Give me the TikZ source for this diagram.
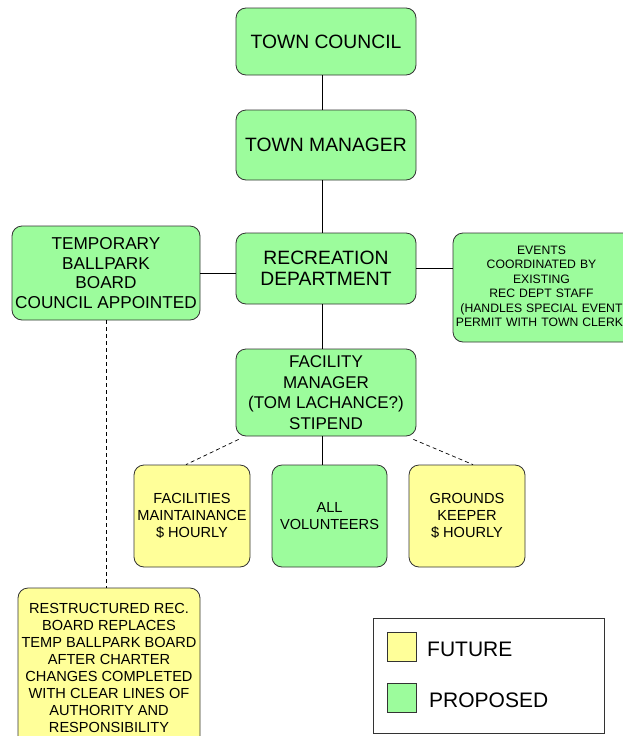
\documentclass[tikz,border=0pt]{standalone}
\usepackage{fontspec}
\setmainfont{Liberation Sans}
\definecolor{propgreen}{HTML}{9CFC9C}
\definecolor{futyellow}{HTML}{FFFF99}
\begin{document}
\begin{tikzpicture}[x=1pt,y=-1pt,
  box/.style={draw=black!80, line width=0.8pt, rounded corners=10pt, align=center, inner sep=0pt},
  prop/.style={box, fill=propgreen},
  fut/.style={box, fill=futyellow},
  big/.style={font=\fontsize{19.3}{21}\selectfont},
  mid/.style={font=\fontsize{14.6}{17}\selectfont},
  sml/.style={font=\fontsize{12.2}{14.4}\selectfont},
  conn/.style={draw=black, line width=0.7pt},
  dconn/.style={draw=black, line width=0.7pt, dash pattern=on 4pt off 3pt}]
\useasboundingbox (0,0) rectangle (623,736);
\clip (0,0) rectangle (623,736);
\node[prop, big, minimum width=180pt, minimum height=67pt] (council) at (326,41.5) {TOWN COUNCIL};
\node[prop, big, minimum width=180pt, minimum height=70pt] (manager) at (326,145) {TOWN MANAGER};
\node[prop, big, minimum width=180pt, minimum height=71pt] (rec) at (326,268.5) {RECREATION\\DEPARTMENT};
\node[prop, font=\fontsize{17.2}{19.8}\selectfont, minimum width=188pt, minimum height=94pt] (temp) at (106,273) {TEMPORARY\\BALLPARK\\BOARD\\COUNCIL APPOINTED};
\node[prop, sml, minimum width=180pt, minimum height=109pt, text width=176pt] (events) at (543,287.5) {\hspace*{-3pt}EVENTS\\\hspace*{-3pt}COORDINATED BY\\\hspace*{-3pt}EXISTING\\\hspace*{-3pt}REC DEPT STAFF\\\hspace*{-3pt}(HANDLES SPECIAL EVENT\\\hspace*{-3pt}PERMIT WITH TOWN CLERK)};
\node[prop, font=\fontsize{17}{20.5}\selectfont, minimum width=180pt, minimum height=87pt] (fac) at (326,392.5) {FACILITY\\MANAGER\\(TOM LACHANCE?)\\STIPEND};
\node[fut, mid, minimum width=116pt, minimum height=102pt] (maint) at (192,516) {FACILITIES\\MAINTAINANCE\\\$ HOURLY};
\node[prop, mid, minimum width=115pt, minimum height=102pt] (vol) at (329.5,516) {ALL\\VOLUNTEERS};
\node[fut, mid, minimum width=116pt, minimum height=102pt] (grounds) at (467,516) {GROUNDS\\KEEPER\\\$ HOURLY};
\node[fut, mid, minimum width=182pt, minimum height=160pt, text depth=0pt] (restr) at (109,668) {RESTRUCTURED REC.\\BOARD REPLACES\\TEMP BALLPARK BOARD\\AFTER CHARTER\\CHANGES COMPLETED\\WITH CLEAR LINES OF\\AUTHORITY AND\\RESPONSIBILITY};
% connectors
\coordinate (cx) at (322,0);
\draw[conn] (council.south -| cx) -- (manager.north -| cx);
\draw[conn] (manager.south -| cx) -- (rec.north -| cx);
\draw[conn] (rec.south -| cx) -- (fac.north -| cx);
\draw[conn] (fac.south -| cx) -- (vol.north -| cx);
\draw[conn] (temp.east) -- (temp.east -| rec.west);
\draw[conn] (rec.east) -- (rec.east -| events.west);
\coordinate (facbl) at ([xshift=3pt,yshift=-3pt]fac.south west);
\coordinate (facbr) at ([xshift=-3pt,yshift=-3pt]fac.south east);
\draw[dconn] (facbl) -- ([xshift=-6pt]maint.north);
\draw[dconn] (facbr) -- ([xshift=6pt]grounds.north);
\draw[dconn] (temp.south) -- (temp.south |- restr.north);
% legend
\node[draw=black!80, line width=0.8pt, minimum width=231pt, minimum height=115pt, inner sep=0pt] (legend) at (488.5,675.5) {};
\node[draw=black!80, line width=0.7pt, fill=futyellow, minimum size=29pt, inner sep=0pt] (lfut) at (401.5,646.5) {};
\node[draw=black!80, line width=0.7pt, fill=propgreen, minimum size=29pt, inner sep=0pt] (lprop) at (401.5,697.5) {};
\node[anchor=west, font=\fontsize{21}{24}\selectfont, inner sep=0pt] (tfut) at (427,649) {FUTURE};
\node[anchor=west, font=\fontsize{21}{24}\selectfont, inner sep=0pt] (tprop) at (429,700) {PROPOSED};
\end{tikzpicture}
\end{document}
